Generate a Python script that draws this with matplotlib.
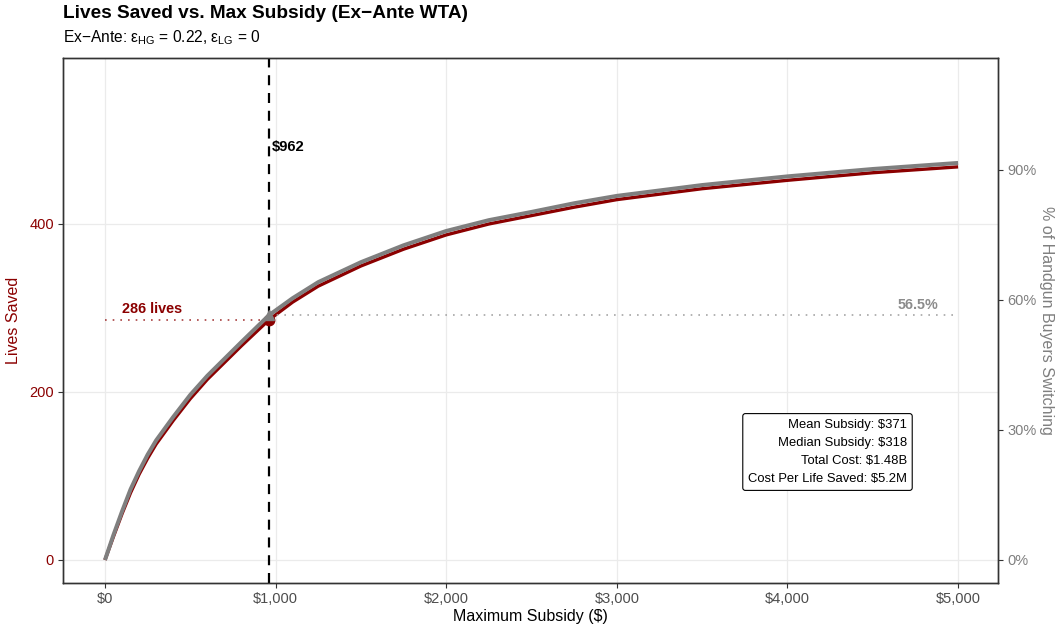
import matplotlib
matplotlib.use("Agg")
import matplotlib.pyplot as plt
from matplotlib.ticker import FuncFormatter, FixedLocator

plt.rcParams['font.family'] = ['Liberation Sans', 'DejaVu Sans']
plt.rcParams['mathtext.fontset'] = 'custom'
plt.rcParams['mathtext.rm'] = 'Liberation Sans'
plt.rcParams['mathtext.it'] = 'Liberation Sans:italic'

# ---- data ----
subsidy = [0, 50, 100, 150, 200, 250, 300, 350, 400, 500, 600, 700, 800, 962,
           1100, 1250, 1500, 1750, 2000, 2250, 2500, 2750, 3000, 3500, 4000,
           4500, 5000]
lives_saved = [0, 28, 55, 80, 102, 121, 138, 152, 166, 192, 215, 235, 255, 286,
               307, 326, 350, 370, 387, 400, 410, 420, 429, 442, 452, 461, 468]
pct_switching = [0, 5.8, 11.2, 16.3, 20.5, 24.3, 27.6, 30.3, 33.0, 38.1, 42.5,
                 46.4, 50.3, 56.5, 60.4, 64.1, 68.7, 72.6, 75.9, 78.4, 80.3,
                 82.3, 84.0, 86.5, 88.5, 90.2, 91.6]

opt_subsidy = 962
opt_lives = 286
opt_pct = 56.5
sec_scale = 5.16  # lives per percentage point on secondary axis

x_ticks = [0, 1000, 2000, 3000, 4000, 5000]
y_ticks = [0, 200, 400]
pct_ticks = [0, 30, 60, 90]

box_lines = ["Mean Subsidy: $371", "Median Subsidy: $318",
             "Total Cost: $1.48B", "Cost Per Life Saved: $5.2M"]

DARKRED = '#8B0000'
GRAY = '#7F7F7F'

fig = plt.figure(figsize=(10.6, 6.3), dpi=100)
ax = fig.add_axes([63/1060, 47/630, 935/1060, 525/630])
ylim = (-27.4, 597.6)
ax.set_xlim(-246, 5234)
ax.set_ylim(*ylim)

ax2 = ax.twinx()
ax2.set_ylim(ylim[0]/sec_scale, ylim[1]/sec_scale)

# grid
ax.set_axisbelow(True)
ax.grid(True, color='#EBEBEB', lw=0.9)
ax.xaxis.set_major_locator(FixedLocator(x_ticks))
ax.yaxis.set_major_locator(FixedLocator(y_ticks))
ax2.yaxis.set_major_locator(FixedLocator(pct_ticks))

# reference lines
ax.plot([0, opt_subsidy], [opt_lives, opt_lives], ls=(0, (1, 3.6)), color=DARKRED, lw=1.2, alpha=0.75)
ax2.plot([opt_subsidy, 5000], [opt_pct, opt_pct], ls=(0, (1, 3.6)), color='#A6A6A6', lw=1.2)

# curves
ax.plot(subsidy, lives_saved, color=DARKRED, lw=2.4, solid_capstyle='butt', zorder=3)
ax2.plot(subsidy, pct_switching, color=GRAY, lw=2.9, solid_capstyle='butt', zorder=3)

ax.axvline(opt_subsidy, color='black', lw=1.6, ls=(0, (4.5, 3.5)), zorder=4)

ax.plot([opt_subsidy], [opt_lives], 'o', color=DARKRED, ms=7.5, zorder=5)
ax2.plot([opt_subsidy], [opt_pct], '^', color=GRAY, ms=7.5, zorder=5)

# annotations
ax.text(275, 298.5, "286 lives", color=DARKRED, fontsize=10.4, fontweight='bold',
        ha='center', va='center')
ax2.text(4767, 303.6/sec_scale, "56.5%", color='#8C8C8C', fontsize=10.4, fontweight='bold',
         ha='center', va='center')
ax.text(979, 491.7, "$962", color='black', fontsize=10.6, fontweight='bold',
        ha='left', va='center')

ax2.text((907-63)/935, (583-452)/525, "\n".join(box_lines), transform=ax2.transAxes,
         ha='right', va='center', multialignment='right', fontsize=9.4,
         linespacing=1.68, color='black', zorder=6,
         bbox=dict(boxstyle='round,pad=0.4,rounding_size=0.2', fc='white', ec='black', lw=0.8))

# axes styling
for a in (ax, ax2):
    for s in a.spines.values():
        s.set_color('#333333')
        s.set_linewidth(1.0)

ax.xaxis.set_major_formatter(FuncFormatter(lambda v, p: f"${int(v):,}"))
ax.tick_params(axis='x', colors='#333333', labelcolor='#4D4D4D', labelsize=10.5, length=3.5, width=0.8, pad=3)
ax.tick_params(axis='y', colors='#333333', labelcolor=DARKRED, labelsize=10.5, length=3.5, width=0.8, pad=3)
ax2.yaxis.set_major_formatter(FuncFormatter(lambda v, p: f"{int(v)}%"))
ax2.tick_params(axis='y', colors='#333333', labelcolor=GRAY, labelsize=10.5, length=3.5, width=0.8, pad=3)

ax.set_xlabel("Maximum Subsidy ($)", fontsize=11.5, color='black', labelpad=2)
ax.set_ylabel("Lives Saved", fontsize=11.5, color=DARKRED, labelpad=6)
ax2.set_ylabel("% of Handgun Buyers Switching", fontsize=11.5, color=GRAY, rotation=270,
               labelpad=13)

fig.text(63/1060, 1 - 14/630, "Lives Saved vs. Max Subsidy (Ex\u2212Ante WTA)",
         fontsize=13.7, fontweight='bold', ha='left', va='center')
fig.text(63/1060, 1 - 38/630,
         "Ex\u2212Ante: \u03b5$_{\\mathrm{HG}}$ = 0.22, \u03b5$_{\\mathrm{LG}}$ = 0",
         fontsize=11.2, ha='left', va='center')

fig.savefig("out.png", dpi=100)
